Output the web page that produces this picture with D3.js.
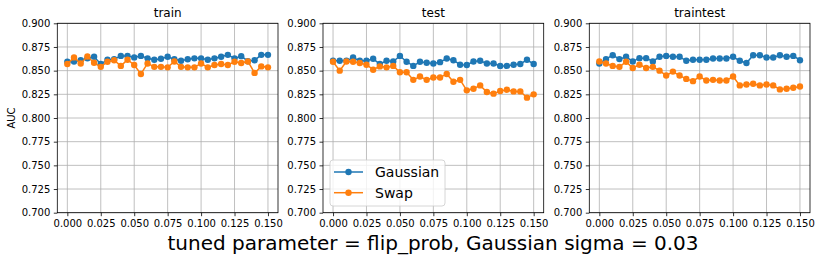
<!DOCTYPE html>
<html lang="en">
<head>
<meta charset="UTF-8">
<title>AUC vs flip_prob</title>
<script src="https://d3js.org/d3.v7.min.js"></script>
<style>
  body { margin: 0; background: #fff; }
  text { font-family: "DejaVu Sans", sans-serif; }
</style>
</head>
<body>
<script>
// data
const flipProb = d3.range(31).map(i => +(i * 0.005).toFixed(3));
const panelTitles = ["train", "test", "traintest"];
const seriesNames = ["Gaussian", "Swap"];

const trainGaussian = [0.8594, 0.8597, 0.861, 0.863, 0.8646, 0.857, 0.8615, 0.862, 0.8656, 0.8656,
  0.864, 0.8656, 0.863, 0.8615, 0.8625, 0.8646, 0.862, 0.8604, 0.862, 0.863,
  0.863, 0.8615, 0.863, 0.8646, 0.8667, 0.863, 0.8653, 0.8600, 0.861, 0.8667, 0.8667];
const trainSwap = [0.857, 0.864, 0.8576, 0.865, 0.8583, 0.854, 0.8594, 0.861, 0.855, 0.8615,
  0.856, 0.8465, 0.8576, 0.854, 0.854, 0.8535, 0.8597, 0.854, 0.8535, 0.8535,
  0.8576, 0.8535, 0.856, 0.857, 0.856, 0.8594, 0.858, 0.8597, 0.8476, 0.8545, 0.8535];

const testGaussian = [0.8604, 0.8604, 0.8604, 0.8639, 0.8604, 0.8604, 0.8625, 0.857, 0.8604, 0.8597,
  0.8656, 0.8594, 0.855, 0.8594, 0.8583, 0.8576, 0.859, 0.8628, 0.861, 0.8563,
  0.856, 0.8597, 0.8604, 0.8576, 0.8576, 0.855, 0.855, 0.8563, 0.857, 0.8615, 0.857];
const testSwap = [0.8594, 0.850, 0.8597, 0.8594, 0.858, 0.8563, 0.851, 0.8545, 0.8535, 0.855,
  0.8483, 0.8483, 0.8403, 0.8438, 0.8403, 0.8427, 0.8427, 0.8465, 0.8382, 0.8403,
  0.8292, 0.8309, 0.8344, 0.8274, 0.8257, 0.8285, 0.8299, 0.8281, 0.8281, 0.8215, 0.825];

const traintestGaussian = [0.8576, 0.8622, 0.8663, 0.8622, 0.8646, 0.8597, 0.8632, 0.8632, 0.8597, 0.8646,
  0.8656, 0.8646, 0.8646, 0.8604, 0.8615, 0.8615, 0.8615, 0.8628, 0.8628, 0.8628,
  0.8646, 0.8604, 0.858, 0.8663, 0.8663, 0.8639, 0.8639, 0.8663, 0.8646, 0.8656, 0.861];
const traintestSwap = [0.8597, 0.8576, 0.855, 0.854, 0.8594, 0.8528, 0.8563, 0.8528, 0.854, 0.850,
  0.8448, 0.849, 0.8448, 0.8413, 0.8389, 0.8438, 0.8396, 0.8403, 0.8396, 0.8396,
  0.8438, 0.8344, 0.8354, 0.8361, 0.8344, 0.8354, 0.8344, 0.8302, 0.8309, 0.832, 0.8333];

const panelData = [
  [trainGaussian, trainSwap],
  [testGaussian, testSwap],
  [traintestGaussian, traintestSwap]
];

const xTicks = [0, 0.025, 0.05, 0.075, 0.1, 0.125, 0.15];
const yTicks = [0.700, 0.725, 0.750, 0.775, 0.800, 0.825, 0.850, 0.875, 0.900];
const colors = ["#1f77b4", "#ff7f0e"];

// canvas
const W = 821, H = 261;
const svg = d3.select("body").append("svg")
  .attr("width", W).attr("height", H);

const panelLefts = [57.3, 323, 589.3];
const pw = 220.7, plotTop = 23.3, plotBottom = 212.7;

const y = d3.scaleLinear().domain([0.7, 0.9]).range([plotBottom, plotTop]);

panelLefts.forEach((left, p) => {
  const x = d3.scaleLinear().domain([-0.0075, 0.1575]).range([left, left + pw]);
  const g = svg.append("g");

  // grid
  g.append("g").selectAll("line").data(xTicks).join("line")
    .attr("x1", d => x(d)).attr("x2", d => x(d))
    .attr("y1", plotTop).attr("y2", plotBottom)
    .attr("stroke", "#b0b0b0").attr("stroke-width", 0.8);
  g.append("g").selectAll("line").data(yTicks).join("line")
    .attr("x1", left).attr("x2", left + pw)
    .attr("y1", d => y(d)).attr("y2", d => y(d))
    .attr("stroke", "#b0b0b0").attr("stroke-width", 0.8);

  // axes
  const xAxis = g.append("g")
    .attr("transform", `translate(0,${plotBottom})`)
    .call(d3.axisBottom(x).tickValues(xTicks).tickFormat(d3.format(".3f"))
      .tickSize(3.5).tickPadding(3.5).tickSizeOuter(0));
  const yAxis = g.append("g")
    .attr("transform", `translate(${left},0)`)
    .call(d3.axisLeft(y).tickValues(yTicks).tickFormat(d3.format(".3f"))
      .tickSize(3.5).tickPadding(3.5).tickSizeOuter(0));
  [xAxis, yAxis].forEach(a => {
    a.select(".domain").remove();
    a.selectAll("text").attr("font-size", 10)
      .attr("font-family", "DejaVu Sans").attr("fill", "#000");
    a.selectAll("line").attr("stroke", "#000").attr("stroke-width", 0.8);
  });

  // frame
  g.append("rect")
    .attr("x", left).attr("y", plotTop)
    .attr("width", pw).attr("height", plotBottom - plotTop)
    .attr("fill", "none").attr("stroke", "#000").attr("stroke-width", 0.8);

  // series
  const line = d3.line().x((d, i) => x(flipProb[i])).y(d => y(d));
  panelData[p].forEach((vals, s) => {
    g.append("path").datum(vals)
      .attr("fill", "none").attr("stroke", colors[s])
      .attr("stroke-width", 1.5).attr("d", line);
    g.append("g").selectAll("circle").data(vals).join("circle")
      .attr("cx", (d, i) => x(flipProb[i])).attr("cy", d => y(d))
      .attr("r", 3.2).attr("fill", colors[s]);
  });

  // title
  svg.append("text")
    .attr("x", left + pw / 2).attr("y", plotTop - 6)
    .attr("text-anchor", "middle").attr("font-size", 12)
    .text(panelTitles[p]);

  // legend in test panel
  if (p === 1) {
    const lg = svg.append("g");
    lg.append("rect")
      .attr("x", left + 7).attr("y", 160)
      .attr("width", 115).attr("height", 46).attr("rx", 3)
      .attr("fill", "#fff").attr("fill-opacity", 0.8)
      .attr("stroke", "#cccccc").attr("stroke-width", 0.8);
    seriesNames.forEach((name, s) => {
      const ly = 172 + s * 20.7;
      lg.append("line")
        .attr("x1", left + 11).attr("x2", left + 40)
        .attr("y1", ly).attr("y2", ly)
        .attr("stroke", colors[s]).attr("stroke-width", 1.5);
      lg.append("circle")
        .attr("cx", left + 25.5).attr("cy", ly).attr("r", 3.2)
        .attr("fill", colors[s]);
      lg.append("text")
        .attr("x", left + 52).attr("y", ly + 5)
        .attr("font-size", 14).text(name);
    });
  }
});

// y label
svg.append("text")
  .attr("transform", `translate(15,${(plotTop + plotBottom) / 2}) rotate(-90)`)
  .attr("text-anchor", "middle").attr("font-size", 10)
  .text("AUC");

// x label
svg.append("text")
  .attr("x", 433).attr("y", 250)
  .attr("text-anchor", "middle").attr("font-size", 20)
  .text("tuned parameter = flip_prob, Gaussian sigma = 0.03");
</script>
</body>
</html>
